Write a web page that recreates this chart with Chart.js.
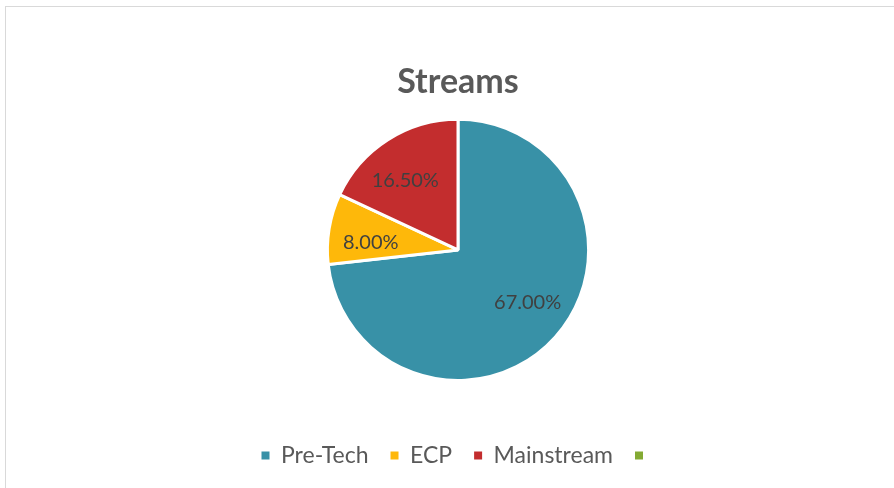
<!DOCTYPE html>
<html>
<head>
<meta charset="utf-8">
<script src="https://cdn.jsdelivr.net/npm/chart.js@4.4.1/dist/chart.umd.min.js"></script>
<style>
    html, body { margin: 0; padding: 0; background: #fff; overflow: hidden; }
    .frame {
        position: absolute; left: 5px; top: 6px;
        width: 900px; height: 500px;
        border: 1px solid #d9d9d9;
    }
    .chart-wrap { position: absolute; left: 0; top: 0; width: 894px; height: 488px; }
</style>
</head>
<body>
<div class="frame"></div>
<div class="chart-wrap"><canvas id="streams-chart"></canvas></div>
<script>
// Streams share (values shown as percent)
const categories = ['Pre-Tech', 'ECP', 'Mainstream', ''];
const shares = [67.0, 8.0, 16.5, 0];
const sliceColors = ['#3891A7', '#FEB80A', '#C32D2E', '#84AA33'];

const FONT = 'Lato, "Open Sans", sans-serif';

// draws the percent text inside each slice
const sliceLabels = {
    id: 'sliceLabels',
    afterDatasetsDraw(chart) {
        const ctx = chart.ctx;
        const meta = chart.getDatasetMeta(0);
        ctx.save();
        ctx.font = '20px ' + FONT;
        ctx.fillStyle = '#404040';
        ctx.textAlign = 'center';
        ctx.textBaseline = 'middle';
        meta.data.forEach((arc, i) => {
            const v = shares[i];
            if (!v) return;
            const p = arc.getProps(['x', 'y', 'startAngle', 'endAngle', 'outerRadius'], true);
            const mid = (p.startAngle + p.endAngle) / 2 - 0.08;
            const r = p.outerRadius * 0.67;
            ctx.fillText(v.toFixed(2) + '%', p.x + Math.cos(mid) * r, p.y + Math.sin(mid) * r);
        });
        ctx.restore();
    }
};

new Chart(document.getElementById('streams-chart'), {
    type: 'pie',
    data: {
        labels: categories,
        datasets: [{
            data: shares,
            backgroundColor: sliceColors,
            borderColor: '#ffffff',
            borderWidth: 3
        }]
    },
    options: {
        responsive: true,
        maintainAspectRatio: false,
        animation: false,
        layout: { padding: { left: 22, right: 0, top: 0, bottom: 11 } },
        plugins: {
            title: {
                display: true,
                text: 'Streams',
                color: '#595959',
                font: { family: FONT, size: 34, weight: 'bold', lineHeight: 1.2 },
                padding: { top: 62, bottom: 15 }
            },
            legend: {
                position: 'bottom',
                title: { display: true, text: ' ', font: { size: 10, lineHeight: 1 }, padding: 15 },
                labels: {
                    color: '#595959',
                    font: { family: FONT, size: 23 },
                    boxWidth: 8,
                    boxHeight: 8,
                    padding: 22,
                    generateLabels(chart) {
                        const items = Chart.overrides.pie.plugins.legend.labels.generateLabels(chart);
                        return items.map(it => Object.assign(it, { lineWidth: 0 }));
                    }
                }
            },
            tooltip: { enabled: false }
        }
    },
    plugins: [sliceLabels]
});
</script>
</body>
</html>
